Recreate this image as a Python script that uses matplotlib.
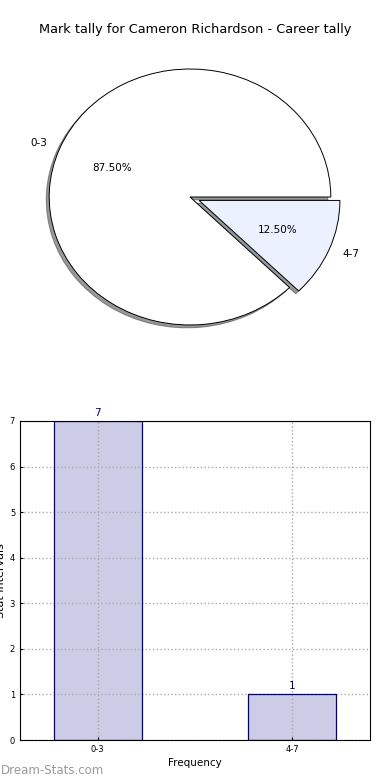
import matplotlib
matplotlib.use('Agg')
import matplotlib.pyplot as plt
import numpy as np

# データ
labels = ['0-3', '4-7']
counts = [7, 1]
pie_colors = ['#ffffff', '#ebf1ff']
explode = [0, 0.07]

fig = plt.figure(figsize=(3.9, 7.8), dpi=100)

# 円グラフ
ax1 = fig.add_axes([14/390, 1 - 357/780, 352/390, 320/780])
wedges, texts, autotexts = ax1.pie(counts, labels=labels, colors=pie_colors,
                                   explode=explode, autopct='%1.2f%%',
                                   shadow={'ox': -0.015, 'oy': -0.016, 'shade': 0.8},
                                   wedgeprops={'edgecolor': 'black', 'linewidth': 0.7},
                                   textprops={'fontsize': 7.5})
ax1.set_aspect('auto')
ax1.set_xlim(-1.25, 1.25)
ax1.set_ylim(-1.25, 1.25)
fig.text(0.5, 1 - 30/780, 'Mark tally for Cameron Richardson - Career tally',
         ha='center', va='center', fontsize=9.3)

# 棒グラフ
ax2 = fig.add_axes([20/390, 1 - 740/780, 350/390, 319/780])
x = np.arange(len(labels))
ax2.bar(x, counts, width=0.45, color='#cccce6', linewidth=0)
# 枠線はグリッドの上に
ax2.bar(x, counts, width=0.45, facecolor='none', edgecolor='navy', linewidth=0.9, zorder=4)
for xi, c in zip(x, counts):
    ax2.text(xi, c + 0.07, str(c), ha='center', va='bottom', color='navy', fontsize=7.5)
ax2.set_xlim(-0.4, 1.4)
ax2.set_ylim(0, 7)
ax2.set_xticks(x)
ax2.set_xticklabels(labels)
ax2.tick_params(labelsize=6, length=2, direction='in')
ax2.grid(True, linestyle=':', color='#aaaaaa', linewidth=1)
for sp in ax2.spines.values():
    sp.set_zorder(5)
ax2.set_xlabel('Frequency', fontsize=7.5, labelpad=3)
ax2.set_ylabel('Stat Intervals', fontsize=8, labelpad=3)

fig.text(1/390, 1 - 771/780, 'Dream-Stats.com', fontsize=8.5, color='#999999',
         ha='left', va='center')

fig.savefig('out.png', dpi=100)
